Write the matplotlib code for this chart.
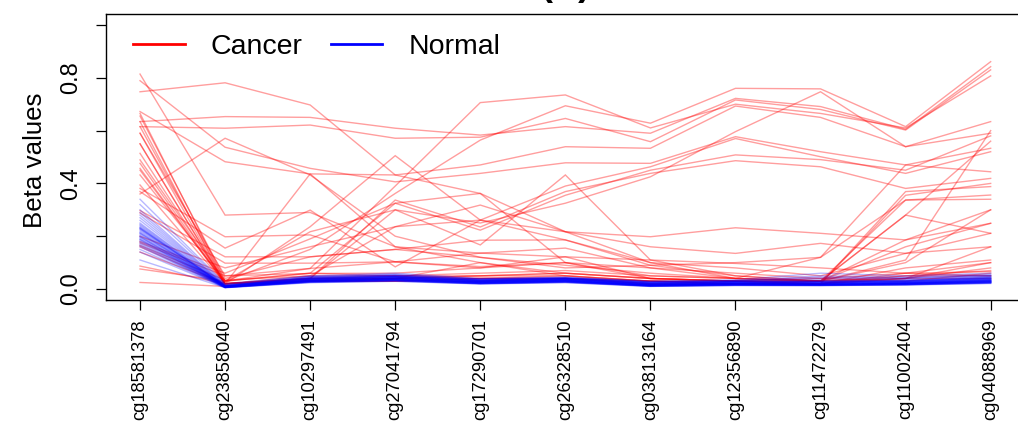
import numpy as np
import matplotlib
matplotlib.use("Agg")
import matplotlib.pyplot as plt
from matplotlib.lines import Line2D

plt.rcParams['font.family'] = ['Liberation Sans', 'DejaVu Sans']

probes = ["cg18581378", "cg23858040", "cg10297491", "cg27041794", "cg17290701",
          "cg26328510", "cg03813164", "cg12356890", "cg11472279", "cg11002404",
          "cg04088969"]

# Beta values per tumour sample across the 11 CpG probes
cancer = [
    [0.747, 0.781, 0.697, 0.432, 0.362, 0.217, 0.198, 0.232, 0.211, 0.186, 0.249],
    [0.634, 0.653, 0.650, 0.609, 0.583, 0.615, 0.590, 0.722, 0.691, 0.605, 0.842],
    [0.615, 0.609, 0.621, 0.571, 0.575, 0.646, 0.558, 0.716, 0.680, 0.602, 0.830],
    [0.665, 0.030, 0.150, 0.362, 0.564, 0.694, 0.628, 0.760, 0.758, 0.615, 0.861],
    [0.076, 0.030, 0.078, 0.390, 0.706, 0.735, 0.610, 0.700, 0.665, 0.610, 0.807],
    [0.814, 0.280, 0.290, 0.160, 0.136, 0.122, 0.110, 0.097, 0.080, 0.060, 0.050],
    [0.789, 0.537, 0.457, 0.406, 0.438, 0.478, 0.476, 0.577, 0.520, 0.470, 0.533],
    [0.672, 0.482, 0.436, 0.432, 0.470, 0.539, 0.533, 0.693, 0.650, 0.539, 0.590],
    [0.550, 0.020, 0.040, 0.300, 0.250, 0.325, 0.425, 0.596, 0.747, 0.539, 0.634],
    [0.514, 0.020, 0.050, 0.236, 0.261, 0.390, 0.463, 0.570, 0.501, 0.438, 0.520],
    [0.489, 0.030, 0.060, 0.325, 0.223, 0.355, 0.450, 0.508, 0.490, 0.450, 0.580],
    [0.476, 0.020, 0.040, 0.337, 0.235, 0.369, 0.438, 0.486, 0.463, 0.381, 0.419],
    [0.457, 0.020, 0.236, 0.505, 0.261, 0.186, 0.100, 0.040, 0.030, 0.337, 0.356],
    [0.432, 0.030, 0.217, 0.300, 0.167, 0.432, 0.110, 0.050, 0.030, 0.040, 0.100],
    [0.394, 0.020, 0.436, 0.160, 0.100, 0.060, 0.040, 0.030, 0.020, 0.369, 0.388],
    [0.381, 0.198, 0.205, 0.103, 0.085, 0.100, 0.080, 0.060, 0.040, 0.060, 0.100],
    [0.369, 0.155, 0.299, 0.084, 0.261, 0.217, 0.160, 0.135, 0.173, 0.135, 0.160],
    [0.297, 0.122, 0.122, 0.150, 0.185, 0.186, 0.090, 0.050, 0.030, 0.280, 0.560],
    [0.288, 0.098, 0.098, 0.103, 0.136, 0.155, 0.080, 0.040, 0.030, 0.186, 0.300],
    [0.200, 0.080, 0.160, 0.236, 0.318, 0.217, 0.100, 0.080, 0.050, 0.135, 0.211],
    [0.180, 0.060, 0.190, 0.325, 0.362, 0.100, 0.050, 0.040, 0.030, 0.160, 0.249],
    [0.175, 0.050, 0.059, 0.060, 0.080, 0.122, 0.040, 0.030, 0.020, 0.080, 0.110],
    [0.165, 0.034, 0.050, 0.050, 0.060, 0.070, 0.050, 0.040, 0.120, 0.337, 0.340],
    [0.160, 0.020, 0.040, 0.040, 0.050, 0.060, 0.040, 0.030, 0.030, 0.110, 0.600],
    [0.140, 0.020, 0.030, 0.040, 0.040, 0.050, 0.030, 0.020, 0.020, 0.060, 0.066],
    [0.087, 0.020, 0.030, 0.030, 0.040, 0.040, 0.030, 0.020, 0.020, 0.050, 0.050],
    [0.025, 0.010, 0.030, 0.030, 0.030, 0.040, 0.020, 0.020, 0.020, 0.040, 0.040],
    [0.634, 0.020, 0.040, 0.040, 0.050, 0.050, 0.030, 0.030, 0.020, 0.355, 0.400],
    [0.590, 0.020, 0.030, 0.030, 0.040, 0.040, 0.020, 0.020, 0.030, 0.100, 0.300],
    [0.615, 0.030, 0.060, 0.050, 0.040, 0.040, 0.030, 0.030, 0.040, 0.030, 0.060],
    [0.550, 0.020, 0.035, 0.040, 0.100, 0.050, 0.030, 0.020, 0.020, 0.040, 0.160],
    [0.450, 0.020, 0.040, 0.050, 0.050, 0.060, 0.040, 0.030, 0.030, 0.040, 0.080],
    [0.360, 0.571, 0.432, 0.200, 0.120, 0.090, 0.060, 0.040, 0.030, 0.050, 0.070],
    [0.655, 0.040, 0.122, 0.150, 0.120, 0.080, 0.090, 0.100, 0.120, 0.470, 0.444],
    [0.590, 0.050, 0.078, 0.103, 0.080, 0.100, 0.040, 0.030, 0.030, 0.280, 0.211],
]

# Beta values per normal sample across the same probes
normal = [
    [0.340, 0.020, 0.050, 0.060, 0.040, 0.045, 0.030, 0.035, 0.060, 0.050, 0.060],
    [0.320, 0.018, 0.048, 0.055, 0.038, 0.042, 0.028, 0.032, 0.050, 0.045, 0.055],
    [0.300, 0.015, 0.045, 0.050, 0.035, 0.040, 0.025, 0.030, 0.045, 0.040, 0.050],
    [0.290, 0.014, 0.042, 0.048, 0.034, 0.040, 0.024, 0.028, 0.030, 0.032, 0.045],
    [0.280, 0.013, 0.040, 0.047, 0.033, 0.039, 0.022, 0.027, 0.028, 0.030, 0.042],
    [0.270, 0.012, 0.040, 0.046, 0.032, 0.038, 0.021, 0.026, 0.026, 0.029, 0.040],
    [0.260, 0.012, 0.038, 0.045, 0.031, 0.037, 0.020, 0.025, 0.025, 0.028, 0.038],
    [0.250, 0.011, 0.037, 0.044, 0.030, 0.036, 0.019, 0.024, 0.024, 0.027, 0.037],
    [0.245, 0.011, 0.036, 0.043, 0.030, 0.036, 0.018, 0.023, 0.023, 0.026, 0.036],
    [0.240, 0.010, 0.035, 0.042, 0.029, 0.035, 0.018, 0.022, 0.022, 0.025, 0.035],
    [0.235, 0.010, 0.035, 0.041, 0.028, 0.034, 0.017, 0.022, 0.021, 0.024, 0.034],
    [0.230, 0.010, 0.034, 0.040, 0.028, 0.034, 0.017, 0.021, 0.020, 0.024, 0.033],
    [0.225, 0.009, 0.033, 0.040, 0.027, 0.033, 0.016, 0.021, 0.020, 0.023, 0.032],
    [0.220, 0.009, 0.033, 0.039, 0.027, 0.033, 0.016, 0.020, 0.019, 0.023, 0.032],
    [0.215, 0.009, 0.032, 0.038, 0.026, 0.032, 0.015, 0.020, 0.019, 0.022, 0.031],
    [0.210, 0.008, 0.032, 0.038, 0.026, 0.032, 0.015, 0.019, 0.018, 0.022, 0.030],
    [0.205, 0.008, 0.031, 0.037, 0.025, 0.031, 0.014, 0.019, 0.018, 0.021, 0.030],
    [0.200, 0.008, 0.031, 0.037, 0.025, 0.031, 0.014, 0.018, 0.017, 0.021, 0.029],
    [0.195, 0.008, 0.030, 0.036, 0.024, 0.030, 0.014, 0.018, 0.017, 0.020, 0.028],
    [0.190, 0.007, 0.030, 0.036, 0.024, 0.030, 0.013, 0.018, 0.016, 0.020, 0.028],
    [0.185, 0.007, 0.029, 0.035, 0.023, 0.029, 0.013, 0.017, 0.016, 0.019, 0.027],
    [0.180, 0.007, 0.029, 0.034, 0.023, 0.029, 0.013, 0.017, 0.016, 0.019, 0.026],
    [0.175, 0.007, 0.028, 0.034, 0.022, 0.028, 0.012, 0.016, 0.015, 0.018, 0.026],
    [0.170, 0.006, 0.028, 0.033, 0.022, 0.028, 0.012, 0.016, 0.015, 0.018, 0.025],
    [0.165, 0.006, 0.027, 0.033, 0.021, 0.027, 0.012, 0.015, 0.015, 0.017, 0.025],
    [0.160, 0.006, 0.027, 0.032, 0.021, 0.027, 0.011, 0.015, 0.014, 0.017, 0.024],
    [0.150, 0.006, 0.026, 0.031, 0.020, 0.026, 0.011, 0.014, 0.014, 0.016, 0.023],
    [0.140, 0.005, 0.025, 0.030, 0.020, 0.025, 0.010, 0.014, 0.013, 0.016, 0.022],
    [0.110, 0.005, 0.024, 0.029, 0.019, 0.024, 0.010, 0.013, 0.013, 0.015, 0.021],
    [0.228, 0.012, 0.044, 0.052, 0.036, 0.042, 0.026, 0.030, 0.034, 0.036, 0.048],
    [0.212, 0.011, 0.041, 0.049, 0.034, 0.040, 0.024, 0.028, 0.030, 0.033, 0.045],
    [0.198, 0.010, 0.039, 0.047, 0.032, 0.038, 0.022, 0.026, 0.027, 0.031, 0.042],
    [0.188, 0.009, 0.037, 0.045, 0.031, 0.037, 0.021, 0.025, 0.025, 0.029, 0.040],
    [0.232, 0.012, 0.046, 0.054, 0.038, 0.044, 0.027, 0.031, 0.040, 0.042, 0.052],
]

fig = plt.figure(figsize=(10.18, 4.23), dpi=100)
ax = fig.add_axes([106 / 1018, (423 - 299.6) / 423, 918.7 / 1018, 285.2 / 423])

x = np.arange(1, len(probes) + 1)
for row in cancer:
    ax.plot(x, row, color=(1, 0, 0, 0.38), linewidth=1.0, solid_joinstyle='miter')
for row in normal:
    ax.plot(x, row, color=(0, 0, 1, 0.28), linewidth=1.0, solid_joinstyle='miter')

ax.set_xlim(0.6, 11.4)
ax.set_ylim(-0.04, 1.04)

ax.set_xticks(x)
ax.set_xticklabels(probes, rotation=90, fontsize=13.2)
ax.set_yticks([0.0, 0.2, 0.4, 0.6, 0.8, 1.0])
ax.set_yticklabels(["0.0", "", "0.4", "", "0.8", ""], rotation=90,
                   fontsize=17, va='center')
ax.tick_params(axis='both', direction='out', length=7.2, width=0.9, color='black')
ax.tick_params(axis='x', pad=7)
ax.tick_params(axis='y', pad=10)
for s in ax.spines.values():
    s.set_linewidth(1.0)
    s.set_color('black')

fig.text(35 / 1018, (423 - 160) / 423, "Beta values", rotation=90,
         ha='center', va='center', fontsize=18.6)

fig.text(565.4 / 1018, (423 + 5) / 423, "(A)", ha='center', va='baseline',
         fontsize=26, fontweight='bold')

handles = [Line2D([], [], color='red', linewidth=2),
           Line2D([], [], color='blue', linewidth=2)]
fig.legend(handles, ["Cancer", "Normal"], loc='center left',
           bbox_to_anchor=(133 / 1018, (423 - 47) / 423), ncol=2, frameon=False,
           fontsize=20.5, handlelength=1.82, handletextpad=0.91,
           columnspacing=0.98, borderpad=0, borderaxespad=0)

fig.savefig("out.png", dpi=100)
